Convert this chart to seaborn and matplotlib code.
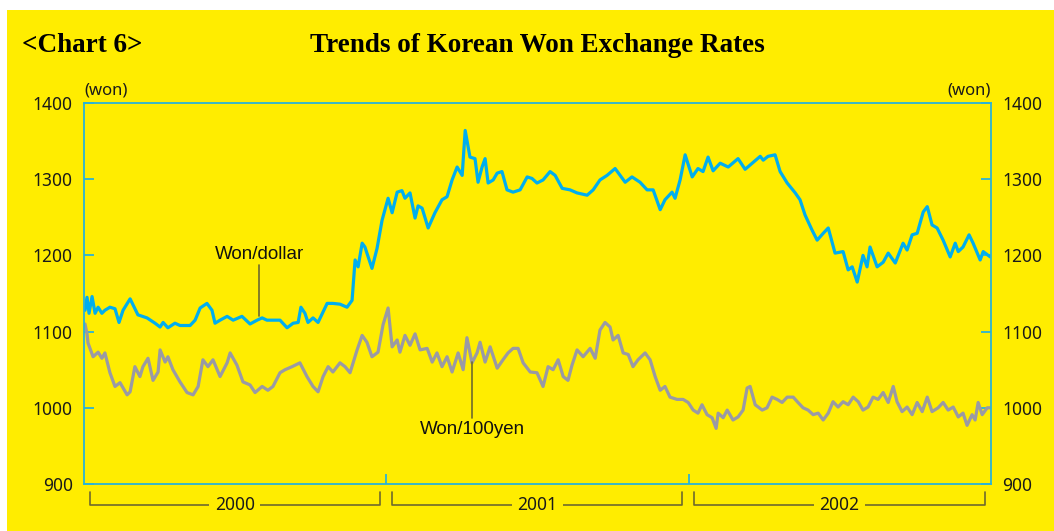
import numpy as np
import pandas as pd
import matplotlib
matplotlib.use("Agg")
import matplotlib.pyplot as plt
import matplotlib.transforms as mtransforms
from matplotlib.patches import Rectangle
import seaborn as sns

# months since Jan 2000 and rates
USD_MONTHS = [0.04, 0.12, 0.2, 0.32, 0.44, 0.56, 0.71, 0.83, 1.03, 1.23, 1.39, 1.55, 1.83, 2.14, 2.5,
              2.82, 3.02, 3.14, 3.33, 3.61, 3.81, 4.21, 4.41, 4.61, 4.88, 5.08, 5.2, 5.4, 5.68, 5.92,
              6.27, 6.59, 6.87, 7.07, 7.26, 7.78, 8.06, 8.3, 8.5, 8.61, 8.77, 8.89, 9.09, 9.29, 9.65,
              9.88, 10.16, 10.44, 10.64, 10.76, 10.88, 11.04, 11.15, 11.43, 11.63, 11.83, 12.07, 12.23,
              12.43, 12.62, 12.74, 12.94, 13.14, 13.26, 13.42, 13.66, 13.93, 14.21, 14.41, 14.61, 14.81,
              15.01, 15.13, 15.32, 15.52, 15.64, 15.8, 15.92, 16.04, 16.24, 16.4, 16.59, 16.79, 17.03,
              17.31, 17.59, 17.78, 17.98, 18.22, 18.5, 18.7, 18.98, 19.29, 19.57, 19.97, 20.21, 20.48,
              20.76, 21.08, 21.48, 21.75, 22.07, 22.35, 22.59, 22.87, 23.06, 23.34, 23.46, 23.66, 23.86,
              24.14, 24.37, 24.57, 24.77, 24.97, 25.25, 25.57, 25.96, 26.24, 26.84, 26.96, 27.15, 27.43,
              27.63, 27.91, 28.23, 28.42, 28.62, 28.9, 29.1, 29.34, 29.54, 29.81, 30.13, 30.33, 30.49,
              30.69, 30.92, 31.08, 31.2, 31.48, 31.72, 31.92, 32.2, 32.51, 32.67, 32.87, 33.07, 33.31,
              33.47, 33.66, 33.86, 34.1, 34.38, 34.58, 34.7, 34.89, 35.13, 35.29, 35.57, 35.69, 35.97]
USD_RATE = [1128, 1145, 1124, 1146, 1124, 1132, 1124, 1128, 1132, 1130, 1112, 1128, 1143, 1122, 1118,
            1111, 1106, 1112, 1105, 1111, 1108, 1108, 1115, 1131, 1137, 1128, 1111, 1115, 1120, 1115,
            1120, 1110, 1115, 1118, 1115, 1115, 1105, 1111, 1112, 1132, 1124, 1112, 1118, 1112, 1137,
            1137, 1136, 1132, 1141, 1194, 1185, 1216, 1211, 1183, 1209, 1246, 1275, 1256,
            1283, 1285, 1275, 1282, 1249, 1265, 1262, 1236, 1256, 1273, 1277, 1299, 1316,
            1305, 1364, 1329, 1327, 1296, 1316, 1327, 1295, 1299, 1308, 1310, 1286, 1283,
            1286, 1303, 1301, 1295, 1299, 1310, 1305, 1288, 1286, 1282, 1279, 1286, 1299,
            1305, 1314, 1296, 1303, 1296, 1286, 1286, 1260, 1273, 1283, 1275, 1299, 1332,
            1303, 1314, 1310, 1329, 1311, 1321, 1316, 1327, 1313, 1330, 1325, 1330, 1332,
            1310, 1295, 1282, 1273, 1253, 1233, 1220, 1229, 1236, 1203, 1205, 1181, 1185,
            1165, 1200, 1185, 1211, 1185, 1191, 1203, 1190, 1216, 1207, 1227, 1229, 1257,
            1264, 1240, 1236, 1220, 1198, 1216, 1205, 1211, 1227, 1216, 1194, 1205, 1198]

JPY_MONTHS = [0.04, 0.12, 0.16, 0.36, 0.56, 0.71, 0.83, 1.03, 1.23, 1.43, 1.71, 1.83, 2.02, 2.22, 2.34,
              2.54, 2.74, 2.94, 3.02, 3.22, 3.33, 3.53, 3.81, 4.09, 4.33, 4.53, 4.72, 4.92, 5.12, 5.4,
              5.68, 5.8, 6.07, 6.31, 6.59, 6.79, 7.07, 7.3, 7.5, 7.78, 7.98, 8.26, 8.57, 8.85, 9.09,
              9.29, 9.49, 9.69, 9.88, 10.16, 10.36, 10.56, 10.68, 10.84, 11.04, 11.23, 11.43, 11.67,
              11.87, 12.07, 12.23, 12.43, 12.54, 12.74, 12.94, 13.14, 13.34, 13.62, 13.82, 14.01, 14.21,
              14.41, 14.61, 14.85, 15.05, 15.2, 15.4, 15.6, 15.72, 15.92, 16.12, 16.4, 16.63, 16.83,
              17.03, 17.23, 17.43, 17.71, 17.98, 18.22, 18.42, 18.62, 18.82, 19.02, 19.21, 19.37, 19.57,
              19.81, 20.09, 20.29, 20.48, 20.68, 20.88, 21.0, 21.2, 21.4, 21.6, 21.79, 21.99, 22.27,
              22.47, 22.67, 22.87, 23.06, 23.26, 23.54, 23.78, 23.98, 24.18, 24.37, 24.53, 24.73, 24.93,
              25.09, 25.17, 25.37, 25.53, 25.76, 25.96, 26.16, 26.32, 26.44, 26.64, 26.92, 27.11, 27.31,
              27.51, 27.71, 27.91, 28.15, 28.34, 28.54, 28.74, 28.94, 29.14, 29.34, 29.54, 29.73, 29.93,
              30.13, 30.33, 30.53, 30.73, 30.92, 31.12, 31.32, 31.52, 31.72, 31.92, 32.12, 32.27, 32.47,
              32.67, 32.87, 33.07, 33.27, 33.47, 33.66, 33.9, 34.1, 34.3, 34.5, 34.7, 34.89, 35.05,
              35.25, 35.37, 35.49, 35.65, 35.85, 35.97]
JPY_RATE = [1110, 1097, 1085, 1067, 1073, 1065, 1072, 1046, 1028, 1033, 1017, 1021, 1054, 1041, 1054,
            1065, 1036, 1047, 1076, 1060, 1067, 1050, 1034, 1020, 1017, 1028, 1063, 1054, 1063, 1041,
            1059, 1072, 1056, 1034, 1030, 1020, 1028, 1023, 1028, 1046, 1050, 1054, 1059, 1041, 1028,
            1021, 1041, 1054, 1047, 1059, 1054, 1046, 1059, 1076, 1095, 1086, 1067, 1073,
            1109, 1131, 1080, 1089, 1073, 1095, 1082, 1097, 1076, 1078, 1060, 1072, 1054,
            1067, 1047, 1072, 1050, 1092, 1059, 1072, 1086, 1060, 1080, 1052, 1063, 1072,
            1078, 1078, 1059, 1047, 1046, 1028, 1054, 1050, 1063, 1041, 1036, 1056, 1076,
            1067, 1078, 1065, 1102, 1112, 1106, 1089, 1095, 1072, 1070, 1054, 1063, 1072,
            1063, 1041, 1023, 1028, 1014, 1011, 1011, 1007, 997, 993, 1004, 991, 987,
            973, 993, 987, 997, 984, 988, 997, 1026, 1028, 1004, 997, 1000, 1014,
            1011, 1007, 1014, 1014, 1007, 1000, 997, 991, 993, 984, 993, 1008, 1001,
            1008, 1004, 1014, 1008, 997, 1001, 1014, 1011, 1020, 1007, 1028, 1008, 995,
            1001, 991, 1007, 995, 1014, 995, 1000, 1007, 997, 1001, 988, 993, 977,
            991, 984, 1007, 991, 1000, 1000]

YEARS = ["2000", "2001", "2002"]
Y_TICKS = [900, 1000, 1100, 1200, 1300, 1400]

YELLOW = "#ffed00"
CYAN = "#2bb3d8"
BLUE = "#00aeef"
GRAY = "#9a9aa4"
OLIVE = "#6e6a2e"
INK = "#1a1a1a"
NUM_FONT = ["Noto Sans", "DejaVu Sans"]
NUM_SIZE = 12.5

usd_df = pd.DataFrame({"month": USD_MONTHS, "rate": USD_RATE})
jpy_df = pd.DataFrame({"month": JPY_MONTHS, "rate": JPY_RATE})

sns.set_style("white")
plt.rcParams["font.family"] = ["Liberation Sans", "DejaVu Sans"]

fig = plt.figure(figsize=(10.54, 5.31), dpi=100, facecolor="white")
# yellow panel, leaving the thin white margin at left and top
fig.patches.append(Rectangle((7 / 1054, 0), 1, 1 - 10 / 531, transform=fig.transFigure,
                             facecolor=YELLOW, edgecolor="none", zorder=-10))

ax = fig.add_axes([84 / 1054, 47 / 531, 907 / 1054, 381 / 531])
ax.set_facecolor(YELLOW)

sns.lineplot(data=jpy_df, x="month", y="rate", ax=ax, color=GRAY, linewidth=2.3)
sns.lineplot(data=usd_df, x="month", y="rate", ax=ax, color=BLUE, linewidth=2.3)

ax.set_xlim(0, 36)
ax.set_ylim(900, 1400)
ax.set_xlabel("")
ax.set_ylabel("")
for s in ax.spines.values():
    s.set_color(CYAN)
    s.set_linewidth(1.3)

ax.set_yticks(Y_TICKS)
ax.set_xticks([12, 24])
ax.set_xticklabels([])
ax.tick_params(axis="y", direction="in", length=7, width=1.3, color=CYAN,
               left=True, right=True, labelleft=True, labelright=True,
               labelsize=NUM_SIZE, labelcolor=INK, pad=8)
ax.tick_params(axis="x", direction="in", length=7, width=1.3, color=CYAN, bottom=True, top=False)
for t in ax.yaxis.get_major_ticks():
    t.label1.set_family(NUM_FONT)
    t.label2.set_family(NUM_FONT)

ax.text(0.0, 1.012, "(won)", transform=ax.transAxes, ha="left", va="bottom", fontsize=12,
        color=INK, family=NUM_FONT)
ax.text(1.0, 1.012, "(won)", transform=ax.transAxes, ha="right", va="bottom", fontsize=12,
        color=INK, family=NUM_FONT)

# year brackets under the axis
trans = mtransforms.blended_transform_factory(ax.transData, ax.transAxes)
for i, year in enumerate(YEARS):
    x0 = i * 12 + 0.22
    x1 = (i + 1) * 12 - 0.25
    ax.plot([x0, x0, x1, x1], [-0.022, -0.056, -0.056, -0.022], transform=trans,
            color=OLIVE, linewidth=1.2, clip_on=False)
    ax.text((x0 + x1) / 2, -0.056, year, transform=trans, ha="center", va="center",
            fontsize=NUM_SIZE, color=INK, family=NUM_FONT,
            bbox=dict(facecolor=YELLOW, edgecolor="none", pad=4))

# series labels with leader lines
ax.plot([6.95, 6.95], [1187, 1120], color=OLIVE, linewidth=1.2)
ax.text(6.95, 1190, "Won/dollar", ha="center", va="bottom", fontsize=13.5, color="#111111")
ax.plot([15.4, 15.4], [1060, 987], color=OLIVE, linewidth=1.2)
ax.text(15.4, 983, "Won/100yen", ha="center", va="top", fontsize=13.5, color="#111111")

fig.text(22 / 1054, 1 - 45 / 531, "<Chart 6>", ha="left", va="center", fontsize=19.5,
         fontweight="bold", color="black", family=["Liberation Serif", "DejaVu Serif"])
fig.text(537 / 1054, 1 - 45 / 531, "Trends of Korean Won Exchange Rates", ha="center", va="center",
         fontsize=19.5, fontweight="bold", color="black", family=["Liberation Serif", "DejaVu Serif"])

fig.savefig("out.png", dpi=100, facecolor=fig.get_facecolor())
